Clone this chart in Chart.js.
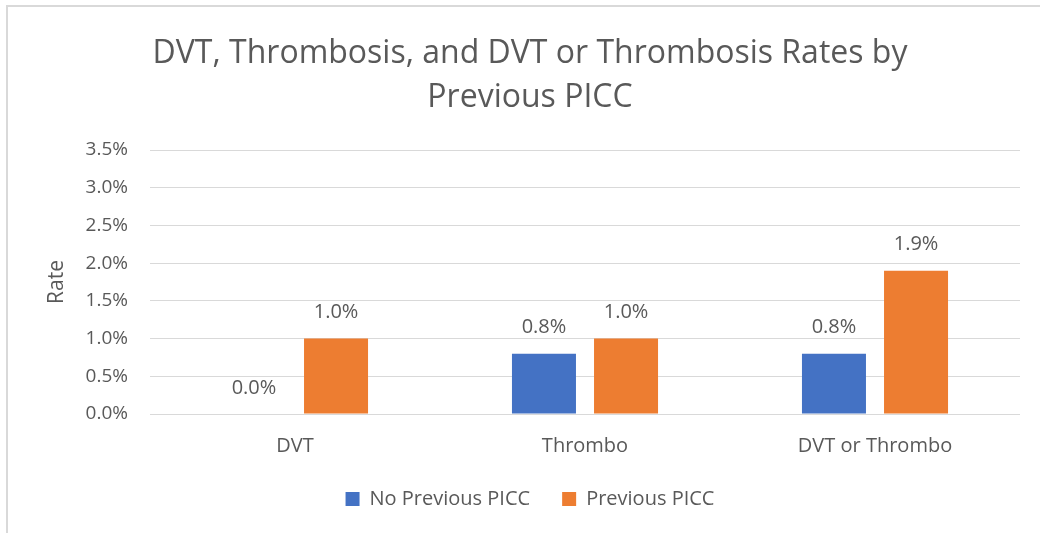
<!DOCTYPE html>
<html>
<head>
<meta charset="utf-8">
<script src="https://cdn.jsdelivr.net/npm/chart.js@4/dist/chart.umd.min.js"></script>
<style>
  html, body { margin: 0; padding: 0; background: #fff; }
  #wrap { position: relative; width: 1040px; height: 533px; overflow: hidden; }
  #frame { position: absolute; left: 6px; top: 5px; width: 1100px; height: 600px;
           border-left: 2px solid #d9d9d9; border-top: 2px solid #d9d9d9; }
  canvas { position: absolute; left: 0; top: 0; }
</style>
</head>
<body>
<div id="wrap">
  <div id="frame"></div>
  <canvas id="chart" width="1040" height="533"></canvas>
</div>
<script>
// Chart data
const categories = ['DVT', 'Thrombo', 'DVT or Thrombo'];
const noPreviousPicc = [0.0, 0.8, 0.8];
const previousPicc = [1.0, 1.0, 1.9];
const yTicks = [0, 0.5, 1.0, 1.5, 2.0, 2.5, 3.0, 3.5];

const FONT = "'Open Sans', 'Noto Sans', sans-serif";
const TEXT = '#595959';

// draws the value above each bar, like Excel data labels
const barLabels = {
  id: 'barLabels',
  afterDatasetsDraw(chart) {
    const ctx = chart.ctx;
    ctx.save();
    ctx.font = `20px ${FONT}`;
    ctx.fillStyle = TEXT;
    ctx.textAlign = 'center';
    ctx.textBaseline = 'middle';
    chart.data.datasets.forEach((ds, i) => {
      chart.getDatasetMeta(i).data.forEach((bar, j) => {
        ctx.fillText(ds.data[j].toFixed(1) + '%', bar.x, bar.y - 26);
      });
    });
    ctx.restore();
  },
};

new Chart(document.getElementById('chart'), {
  type: 'bar',
  data: {
    labels: categories,
    datasets: [
      { label: 'No Previous PICC', data: noPreviousPicc, backgroundColor: '#4472C4',
        categoryPercentage: 0.566, barPercentage: 0.78 },
      { label: 'Previous PICC', data: previousPicc, backgroundColor: '#ED7D31',
        categoryPercentage: 0.566, barPercentage: 0.78 },
    ],
  },
  options: {
    responsive: false,
    animation: false,
    devicePixelRatio: 1,
    layout: { padding: { left: 40, right: 20, top: 0, bottom: 14 } },
    plugins: {
      title: {
        display: true,
        text: ['DVT, Thrombosis, and DVT or Thrombosis Rates by', 'Previous PICC'],
        color: TEXT,
        font: { family: FONT, size: 32, weight: 'normal', lineHeight: 1.375 },
        padding: { top: 32, bottom: 30 },
      },
      legend: {
        position: 'bottom',
        labels: {
          color: TEXT,
          font: { family: FONT, size: 20 },
          boxWidth: 14, boxHeight: 14,
          padding: 32,
        },
      },
      tooltip: { enabled: false },
    },
    scales: {
      x: {
        grid: { display: false, drawTicks: false },
        border: { display: false },
        afterFit: s => { s.height = 43; },
        ticks: { color: TEXT, font: { family: FONT, size: 20 }, padding: 20 },
      },
      y: {
        min: 0, max: 3.5,
        afterBuildTicks: s => { s.ticks = yTicks.map(v => ({ value: v })); },
        afterFit: s => { s.width = 110; },
        grid: { color: '#d9d9d9', drawTicks: false },
        border: { display: false },
        ticks: { color: TEXT, font: { family: FONT, size: 19 }, padding: 22,
                 callback: v => v.toFixed(1) + '%' },
        title: { display: true, text: 'Rate', color: TEXT,
                 font: { family: FONT, size: 21 }, padding: { top: 4, bottom: 4 } },
      },
    },
  },
  plugins: [barLabels],
});
</script>
</body>
</html>
